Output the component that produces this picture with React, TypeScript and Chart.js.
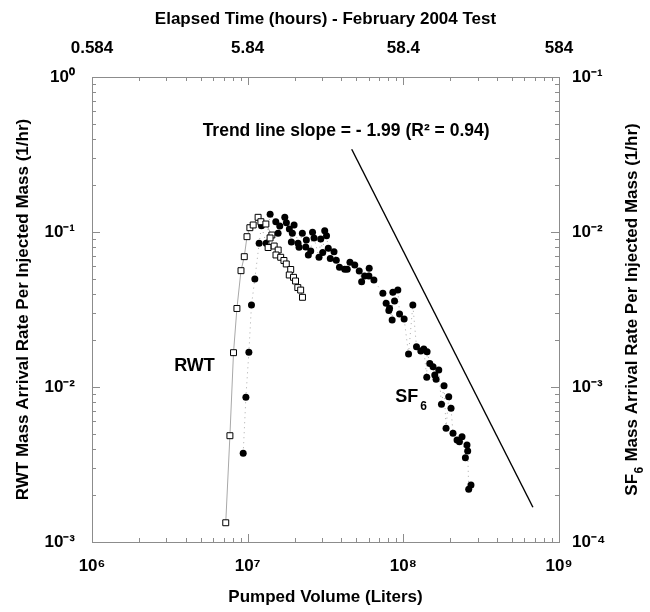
import React, { useEffect, useRef } from 'react';
import { Chart, registerables } from 'chart.js';

Chart.register(...registerables);

// ---- axis ticks ----
const X_TICKS = [1e6, 1e7, 1e8, 1e9];
const X_LABELS = ['10⁶', '10⁷', '10⁸', '10⁹'];
const TOP_LABELS = ['0.584', '5.84', '58.4', '584'];
const Y_TICKS = [1e-3, 1e-2, 1e-1, 1];
const Y_LABELS = ['10⁻³', '10⁻²', '10⁻¹', '10⁰'];
const Y2_TICKS = [1e-4, 1e-3, 1e-2, 1e-1];
const Y2_LABELS = ['10⁻⁴', '10⁻³', '10⁻²', '10⁻¹'];

// ---- RWT (left axis) ----
const RWT_VOLUME = [
  7.23e6, 7.69e6, 8.11e6, 8.53e6, 9.06e6, 9.51e6, 9.9e6, 1.033e7, 1.085e7, 1.167e7,
  1.216e7, 1.309e7, 1.43e7, 1.393e7, 1.353e7, 1.48e7, 1.57e7, 1.52e7, 1.63e7, 1.71e7,
  1.77e7, 1.89e7, 1.85e7, 1.97e7, 2.03e7, 2.1e7, 2.19e7, 2.25e7,
];
const RWT_RATE = [
  1.331e-3, 4.85e-3, 1.665e-2, 3.21e-2, 5.63e-2, 6.93e-2, 9.33e-2, 0.1066, 0.111, 0.1244,
  0.1165, 0.1126, 0.0956, 0.0915, 0.0794, 0.0812, 0.0765, 0.0711, 0.0687, 0.0655,
  0.0622, 0.0573, 0.0528, 0.051, 0.0483, 0.0438, 0.0422, 0.0379,
];

// ---- SF6 (right axis) ----
const SF6_VOLUME = [
  9.36e6, 9.74e6, 1.018e7, 1.058e7, 1.112e7, 1.185e7, 1.226e7, 1.314e7, 1.394e7, 1.516e7,
  1.568e7, 1.608e7, 1.732e7, 1.773e7, 1.853e7, 1.909e7, 1.937e7, 1.987e7, 2.107e7, 2.138e7,
  2.245e7, 2.361e7, 2.382e7, 2.453e7, 2.542e7, 2.61e7, 2.669e7, 2.873e7, 2.946e7, 3.035e7,
  3.126e7, 3.21e7, 3.296e7, 3.395e7, 3.586e7, 3.709e7, 3.888e7, 4.2e7, 4.362e7, 4.54e7,
  4.874e7, 5.209e7, 5.397e7, 5.641e7, 6.009e7, 6.036e7, 6.471e7, 7.388e7, 7.756e7, 8.073e7,
  8.155e7, 8.476e7, 8.564e7, 8.781e7, 9.22e7, 9.454e7, 1.012e8, 1.08e8, 1.151e8, 1.215e8,
  1.295e8, 1.353e8, 1.414e8, 1.421e8, 1.479e8, 1.552e8, 1.592e8, 1.623e8, 1.689e8, 1.758e8,
  1.826e8, 1.881e8, 1.957e8, 2.025e8, 2.085e8, 2.213e8, 2.293e8, 2.382e8, 2.504e8, 2.564e8,
  2.591e8, 2.63e8, 2.72e8,
];
const SF6_RATE = [
  3.74e-4, 8.58e-4, 1.675e-3, 3.38e-3, 4.97e-3, 8.45e-3, 1.098e-2, 8.45e-3, 1.3e-2, 1.165e-2,
  9.81e-3, 1.093e-2, 1.244e-2, 1.148e-2, 1.045e-2, 8.62e-3, 9.81e-3, 1.11e-2, 8.45e-3, 7.97e-3,
  9.81e-3, 8.0e-3, 8.88e-3, 7.11e-3, 7.54e-3, 9.96e-3, 9.15e-3, 6.87e-3, 9.01e-3, 7.37e-3,
  1.02e-2, 9.46e-3, 7.85e-3, 6.75e-3, 7.46e-3, 6.57e-3, 5.92e-3, 5.75e-3, 5.75e-3, 6.37e-3,
  6.12e-3, 5.6e-3, 4.78e-3, 5.2e-3, 5.2e-3, 5.83e-3, 4.9e-3, 4.02e-3, 3.47e-3, 3.11e-3,
  3.22e-3, 2.71e-3, 4.08e-3, 3.59e-3, 4.22e-3, 2.96e-3, 2.75e-3, 1.63e-3, 3.38e-3, 1.82e-3,
  1.71e-3, 1.76e-3, 1.155e-3, 1.69e-3, 1.42e-3, 1.35e-3, 1.195e-3, 1.12e-3, 1.288e-3, 7.73e-4,
  1.02e-3, 5.41e-4, 8.66e-4, 7.29e-4, 5.03e-4, 4.55e-4, 4.44e-4, 4.78e-4, 3.5e-4, 4.22e-4,
  3.86e-4, 2.19e-4, 2.33e-4,
];

// ---- trend line (left axis) ----
const TREND_VOLUME = [4.66e7, 6.8e8];
const TREND_RATE = [0.342, 1.675e-3];

const FONT = '"Liberation Sans", Arial, Helvetica, sans-serif';
const AXIS_COLOR = '#8c8c8c';

const decorPlugin = {
  id: 'decor',
  afterDraw(chart: any) {
    const { ctx, chartArea: a, scales } = chart;
    const sx = scales.x;
    const sy = scales.y;
    ctx.save();
    ctx.strokeStyle = AXIS_COLOR;
    ctx.lineWidth = 1;
    ctx.beginPath();
    for (let e = 6; e < 9; e++) {
      for (let m = 1; m <= 9; m++) {
        const px = Math.round(sx.getPixelForValue(m * Math.pow(10, e))) + 0.5;
        const len = m === 1 ? 8 : 4;
        ctx.moveTo(px, a.bottom); ctx.lineTo(px, a.bottom - len);
        ctx.moveTo(px, a.top); ctx.lineTo(px, a.top + len);
      }
    }
    for (let e = -3; e < 0; e++) {
      for (let m = 1; m <= 9; m++) {
        const py = Math.round(sy.getPixelForValue(m * Math.pow(10, e))) + 0.5;
        const len = m === 1 ? 8 : 4;
        ctx.moveTo(a.left, py); ctx.lineTo(a.left + len, py);
        ctx.moveTo(a.right, py); ctx.lineTo(a.right - len, py);
      }
    }
    ctx.stroke();

    // annotations
    ctx.fillStyle = '#000';
    ctx.textBaseline = 'middle';
    ctx.font = `bold 17.5px ${FONT}`;
    ctx.textAlign = 'right';
    ctx.fillText('Trend line slope = - 1.99 (R² = 0.94)', sx.getPixelForValue(3.58e8), sy.getPixelForValue(0.448));
    ctx.textAlign = 'left';
    ctx.font = `bold 18px ${FONT}`;
    ctx.fillText('RWT', sx.getPixelForValue(3.37e6), sy.getPixelForValue(1.37e-2));
    const sfx = sx.getPixelForValue(8.88e7);
    const sfy = sy.getPixelForValue(8.6e-3);
    ctx.fillText('SF', sfx, sfy);
    const w = ctx.measureText('SF').width;
    ctx.font = `bold 12px ${FONT}`;
    ctx.fillText('6', sfx + w + 2, sfy + 10);

    // right axis title (reads bottom to top, with subscript)
    const cx = 632;
    const cy = (a.top + a.bottom) / 2;
    ctx.translate(cx, cy);
    ctx.rotate(-Math.PI / 2);
    const big = `bold 17px ${FONT}`;
    const small = `bold 12px ${FONT}`;
    ctx.font = big;
    const w1 = ctx.measureText('SF').width;
    const rest = ' Mass Arrival Rate Per Injected Mass (1/hr)';
    const w3 = ctx.measureText(rest).width;
    ctx.font = small;
    const w2 = ctx.measureText('6').width;
    const total = w1 + w2 + 1 + w3;
    const x0 = -total / 2;
    ctx.textAlign = 'left';
    ctx.font = big;
    ctx.fillText('SF', x0, 0);
    ctx.font = small;
    ctx.fillText('6', x0 + w1 + 0.5, 8);
    ctx.font = big;
    ctx.fillText(rest, x0 + w1 + w2 + 1, 0);
    ctx.restore();
  },
};

export default function App() {
  const ref = useRef<HTMLCanvasElement | null>(null);
  useEffect(() => {
    if (!ref.current) return;
    const tickFont = { family: FONT, size: 17, weight: 'bold' as const };
    const titleFont = { family: FONT, size: 17, weight: 'bold' as const };
    const chart = new Chart(ref.current, {
      type: 'scatter',
      data: {
        datasets: [
          {
            label: 'RWT',
            data: RWT_VOLUME.map((x, i) => ({ x, y: RWT_RATE[i] })),
            showLine: true,
            borderColor: '#a8a8a8',
            borderWidth: 1,
            pointStyle: 'rect',
            pointRadius: 4.2,
            pointBackgroundColor: '#ffffff',
            pointBorderColor: '#000000',
            pointBorderWidth: 1,
            xAxisID: 'x',
            yAxisID: 'y',
          },
          {
            label: 'SF6',
            data: SF6_VOLUME.map((x, i) => ({ x, y: SF6_RATE[i] })),
            showLine: true,
            borderColor: '#a8a8a8',
            borderWidth: 1,
            borderDash: [1, 4],
            pointStyle: 'circle',
            pointRadius: 3.5,
            pointBackgroundColor: '#000000',
            pointBorderColor: '#000000',
            pointBorderWidth: 0,
            xAxisID: 'x',
            yAxisID: 'y2',
          },
          {
            label: 'Trend',
            data: TREND_VOLUME.map((x, i) => ({ x, y: TREND_RATE[i] })),
            showLine: true,
            borderColor: '#000000',
            borderWidth: 1.4,
            pointRadius: 0,
            xAxisID: 'x',
            yAxisID: 'y',
          },
        ],
      },
      options: {
        responsive: false,
        animation: false,
        layout: { padding: 0 },
        plugins: { legend: { display: false }, tooltip: { enabled: false } },
        scales: {
          x: {
            type: 'logarithmic',
            position: 'bottom',
            min: 1e6,
            max: 1e9,
            afterBuildTicks: (s: any) => { s.ticks = X_TICKS.map((v) => ({ value: v })); },
            afterFit: (s: any) => { s.height = 70; },
            grid: { display: false, drawTicks: false },
            border: { display: true, color: AXIS_COLOR, width: 1 },
            ticks: { autoSkip: false, maxRotation: 0, padding: 14, color: '#000', font: tickFont, callback: (_v: any, i: number) => X_LABELS[i] },
            title: { display: true, text: 'Pumped Volume (Liters)', color: '#000', font: titleFont, padding: { top: 0, bottom: 4 } },
          },
          x2: {
            type: 'logarithmic',
            position: 'top',
            min: 1e6,
            max: 1e9,
            afterBuildTicks: (s: any) => { s.ticks = X_TICKS.map((v) => ({ value: v })); },
            afterFit: (s: any) => { s.height = 77; },
            grid: { display: false, drawTicks: false },
            border: { display: true, color: AXIS_COLOR, width: 1 },
            ticks: { autoSkip: false, maxRotation: 0, padding: 18, color: '#000', font: tickFont, callback: (_v: any, i: number) => TOP_LABELS[i] },
            title: { display: true, text: 'Elapsed Time (hours) - February 2004 Test', color: '#000', font: titleFont, padding: { top: 9, bottom: 0 } },
          },
          y: {
            type: 'logarithmic',
            position: 'left',
            min: 1e-3,
            max: 1,
            afterBuildTicks: (s: any) => { s.ticks = Y_TICKS.map((v) => ({ value: v })); },
            afterFit: (s: any) => { s.width = 92; },
            grid: { display: false, drawTicks: false },
            border: { display: true, color: AXIS_COLOR, width: 1 },
            ticks: { autoSkip: false, padding: 17, color: '#000', font: tickFont, callback: (_v: any, i: number) => Y_LABELS[i] },
            title: { display: true, text: 'RWT Mass Arrival Rate Per Injected Mass (1/hr)', color: '#000', font: titleFont, padding: { top: 13, bottom: 0 } },
          },
          y2: {
            type: 'logarithmic',
            position: 'right',
            min: 1e-4,
            max: 1e-1,
            afterBuildTicks: (s: any) => { s.ticks = Y2_TICKS.map((v) => ({ value: v })); },
            afterFit: (s: any) => { s.width = 91; },
            grid: { display: false, drawTicks: false },
            border: { display: true, color: AXIS_COLOR, width: 1 },
            ticks: { autoSkip: false, padding: 13, color: '#000', font: tickFont, callback: (_v: any, i: number) => Y2_LABELS[i] },
            title: { display: false },
          },
        },
      },
      plugins: [decorPlugin],
    } as any);
    return () => chart.destroy();
  }, []);
  return (
    <div style={{ position: 'absolute', left: 0, top: 0, width: 650, height: 612, background: '#fff' }}>
      <canvas ref={ref} width={650} height={612} style={{ display: 'block', width: 650, height: 612 }} />
    </div>
  );
}
